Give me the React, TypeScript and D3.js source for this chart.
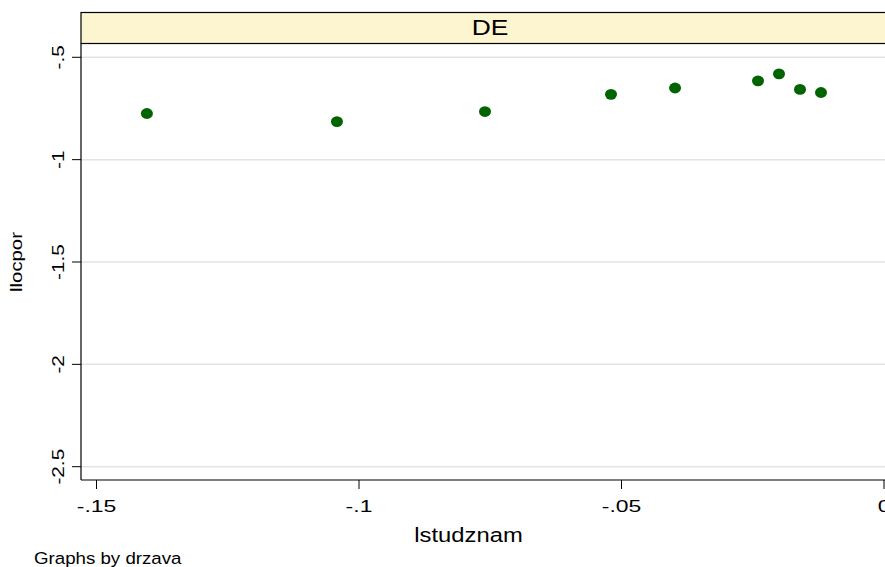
import React from "react";
import * as d3 from "d3";

// lstudznam vs llocpor for drzava = DE
const xValues = [-0.1404, -0.1042, -0.0760, -0.0520, -0.0398, -0.0240, -0.0200, -0.0160, -0.0120];
const yValues = [-0.7745, -0.8140, -0.7650, -0.6810, -0.6500, -0.6150, -0.5810, -0.6570, -0.6720];
const xTicks = [-0.15, -0.1, -0.05, 0];
const xTickLabels = ["-.15", "-.1", "-.05", "0"];
const yTicks = [-0.5, -1, -1.5, -2, -2.5];
const yTickLabels = ["-.5", "-1", "-1.5", "-2", "-2.5"];
const panelLabel = "DE";
const xTitle = "lstudznam";
const yTitle = "llocpor";
const note = "Graphs by drzava";

const W = 885;
const H = 567;
const left = 81;
const right = 899;
const headerTop = 12.5;
const headerBottom = 43.5;
const bottom = 480;
const font = "'Liberation Sans', Arial, Helvetica, sans-serif";

// Text drawn with a wide, stretched glyph shape
function Label(props: {
  x: number; y: number; rotate?: number; sx: number; size: number;
  anchor?: "start" | "middle" | "end"; children: React.ReactNode;
}) {
  const { x, y, rotate = 0, sx, size, anchor = "middle", children } = props;
  return (
    <text transform={`translate(${x},${y}) rotate(${rotate}) scale(${sx},1)`}
      textAnchor={anchor} fontFamily={font} fontSize={size} fill="#000">
      {children}
    </text>
  );
}

export default function App() {
  const x = d3.scaleLinear().domain([-0.15, 0]).range([96.5, 884]);
  const y = d3.scaleLinear().domain([-0.5, -2.5]).range([57.3, 466.7]);

  return (
    <svg width={W} height={H} style={{ position: "absolute", left: 0, top: 0, background: "#fff" }}>
      <rect x={0} y={0} width={W} height={H} fill="#fff" />
      {/* header strip */}
      <rect x={left} y={headerTop} width={right - left} height={headerBottom - headerTop}
        fill="#fdf5d0" stroke="#000" strokeWidth={1.2} />
      <Label x={(left + right) / 2} y={35} sx={1.2} size={22}>{panelLabel}</Label>

      {/* gridlines */}
      {yTicks.map((t) => (
        <line key={"g" + t} x1={left} x2={right} y1={y(t)} y2={y(t)} stroke="#e3e3e3" strokeWidth={1.5} />
      ))}

      {/* axes */}
      <line x1={left} x2={left} y1={headerBottom} y2={bottom} stroke="#000" strokeWidth={1.2} />
      <line x1={left} x2={right} y1={bottom} y2={bottom} stroke="#000" strokeWidth={1.2} />

      {/* y ticks */}
      {yTicks.map((t, i) => (
        <g key={"y" + t}>
          <line x1={72} x2={left} y1={y(t)} y2={y(t)} stroke="#000" strokeWidth={1} />
          <Label x={64} y={y(t)} rotate={-90} sx={1.3} size={16}>{yTickLabels[i]}</Label>
        </g>
      ))}

      {/* x ticks */}
      {xTicks.map((t, i) => (
        <g key={"x" + t}>
          <line x1={x(t)} x2={x(t)} y1={bottom} y2={489} stroke="#000" strokeWidth={1} />
          <Label x={x(t)} y={512} sx={1.35} size={17}>{xTickLabels[i]}</Label>
        </g>
      ))}

      {/* titles */}
      <Label x={468.5} y={542} sx={1.22} size={19.5}>{xTitle}</Label>
      <Label x={22} y={262} rotate={-90} sx={1.27} size={16}>{yTitle}</Label>
      <Label x={34} y={564} sx={1.1} size={17} anchor="start">{note}</Label>

      {/* points */}
      {xValues.map((v, i) => (
        <ellipse key={"p" + i} cx={x(v)} cy={y(yValues[i])} rx={6} ry={5.4} fill="#006400" />
      ))}
    </svg>
  );
}
